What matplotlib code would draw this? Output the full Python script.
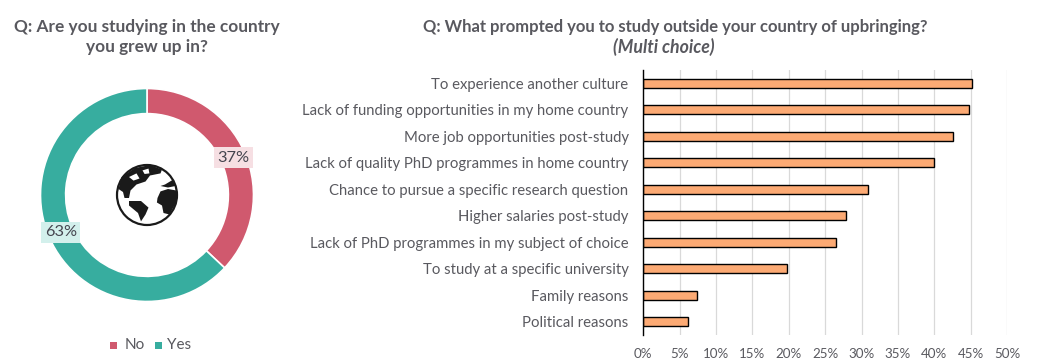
import numpy as np
import matplotlib
matplotlib.use('Agg')
import matplotlib.pyplot as plt
from matplotlib.patches import Circle, Polygon, Rectangle

plt.rcParams['font.family'] = ['Lato', 'DejaVu Sans']

W, H = 1039, 364
TXT = '#59595f'

donut_labels = ['No', 'Yes']
donut_values = [37, 63]
donut_colors = ['#d0596e', '#37ad9f']
donut_box = ['#f6dfe3', '#d3f0ec']

reasons = ['To experience another culture',
           'Lack of funding opportunities in my home country',
           'More job opportunities post-study',
           'Lack of quality PhD programmes in home country',
           'Chance to pursue a specific research question',
           'Higher salaries post-study',
           'Lack of PhD programmes in my subject of choice',
           'To study at a specific university',
           'Family reasons',
           'Political reasons']
reason_values = [45.2, 44.7, 42.5, 39.9, 30.9, 27.8, 26.5, 19.8, 7.4, 6.2]
x_ticks = [0, 5, 10, 15, 20, 25, 30, 35, 40, 45, 50]


def box(left, top, width, height):
    # pixel box from the top left corner to figure fractions
    return [left / W, 1 - (top + height) / H, width / W, height / H]


fig = plt.figure(figsize=(W / 100, H / 100), dpi=100, facecolor='white')

# donut
ax1 = fig.add_axes(box(27, 75, 240, 240))
ax1.pie(donut_values, colors=donut_colors, startangle=90, counterclock=False,
        radius=1, wedgeprops=dict(width=0.236, edgecolor='white', linewidth=1.2))
ax1.set_xlim(-120 / 106.5, 120 / 106.5)
ax1.set_ylim(-120 / 106.5, 120 / 106.5)
ax1.set_aspect('equal')

start = 90
for val, bg in zip(donut_values, donut_box):
    mid = np.radians(start - val * 3.6 / 2)
    ax1.text(0.882 * np.cos(mid), 0.882 * np.sin(mid), f'{val}%', ha='center', va='center',
             fontsize=11.8, color='#45454f',
             bbox=dict(boxstyle='square,pad=0.2', facecolor=bg, edgecolor='none'), zorder=5)
    start -= val * 3.6

# globe icon in the middle of the donut
g = 30 / 106.5
ax1.add_patch(Circle((0, 0), g, facecolor='white', edgecolor='#1a1a1a', linewidth=1.6, zorder=4))
continents = [
    # north america
    [(-0.95, 0.2), (-0.85, 0.6), (-0.4, 0.9), (0.1, 1.0), (0.5, 0.85), (0.45, 0.72), (0.1, 0.65), (-0.05, 0.45),
     (-0.35, 0.35), (-0.55, 0.15), (-0.6, -0.1), (-0.75, -0.1), (-0.8, 0.1)],
    # south america
    [(-0.6, -0.2), (-0.2, -0.2), (0.05, -0.42), (-0.05, -0.65), (-0.2, -0.88), (-0.3, -0.6), (-0.6, -0.35)],
    # africa
    [(0.35, -0.1), (0.45, 0.12), (0.7, 0.2), (0.98, 0.15), (1.0, -0.2), (0.75, -0.65), (0.55, -0.6), (0.5, -0.35),
     (0.33, -0.25)],
    # europe
    [(0.45, 0.3), (0.6, 0.35), (0.85, 0.5), (0.95, 0.3), (0.7, 0.25)],
]
for c in continents:
    ax1.add_patch(Polygon(np.array(c) * g, closed=True, facecolor='#1a1a1a', edgecolor='none', zorder=5))
# white gaps in the northern land
gaps = [
    [(-0.6, 0.6), (-0.35, 0.72), (-0.25, 0.55), (-0.45, 0.48)],
    [(-0.15, 0.82), (0.05, 0.88), (0.08, 0.72), (-0.08, 0.7)],
]
for c in gaps:
    ax1.add_patch(Polygon(np.array(c) * g, closed=True, facecolor='white', edgecolor='none', zorder=6))

# legend of the donut
for sx, tx, lab, col in zip([110, 155], [125, 167], donut_labels, donut_colors):
    fig.add_artist(Rectangle((sx / W, 1 - 348.5 / H), 7 / W, 7 / H, transform=fig.transFigure,
                             facecolor=col, edgecolor='none'))
    fig.text(tx / W, 1 - 345 / H, lab, fontsize=11, color=TXT, va='center', ha='left')

# bars
ax2 = fig.add_axes(box(643.2, 70, 364, 265))
y = np.arange(len(reasons))
ax2.barh(y, reason_values, height=0.34, color='#fcaa74', edgecolor='black', linewidth=1.0, zorder=3)
ax2.set_ylim(len(reasons) - 0.5, -0.5)
ax2.set_xlim(0, 50)
ax2.set_yticks(y)
ax2.set_yticklabels(reasons, fontsize=10.75, color=TXT)
ax2.set_xticks(x_ticks)
ax2.set_xticklabels([f'{t}%' for t in x_ticks], fontsize=9.6, color=TXT)
ax2.tick_params(axis='both', length=0)
ax2.tick_params(axis='y', pad=10.5)
ax2.tick_params(axis='x', pad=9)
ax2.grid(axis='x', color='#d9d9d9', linewidth=0.9, zorder=0)
for s in ['top', 'right', 'bottom']:
    ax2.spines[s].set_visible(False)
ax2.spines['left'].set_color('black')
ax2.spines['left'].set_linewidth(1.0)
ax2.spines['left'].set_zorder(4)

# titles
fig.text(147 / W, 1 - 27 / H, 'Q: Are you studying in the country', fontsize=12.4, fontweight='bold',
         color=TXT, ha='center', va='center')
fig.text(147 / W, 1 - 47 / H, 'you grew up in?', fontsize=12.4, fontweight='bold',
         color=TXT, ha='center', va='center')
fig.text(675 / W, 1 - 27 / H, 'Q: What prompted you to study outside your country of upbringing?', fontsize=11.95,
         fontweight='bold', color=TXT, ha='center', va='center')
fig.text(664 / W, 1 - 47 / H, '(Multi choice)', fontsize=12.8, fontweight='bold', style='italic',
         color=TXT, ha='center', va='center')

fig.savefig('out.png', dpi=100)
